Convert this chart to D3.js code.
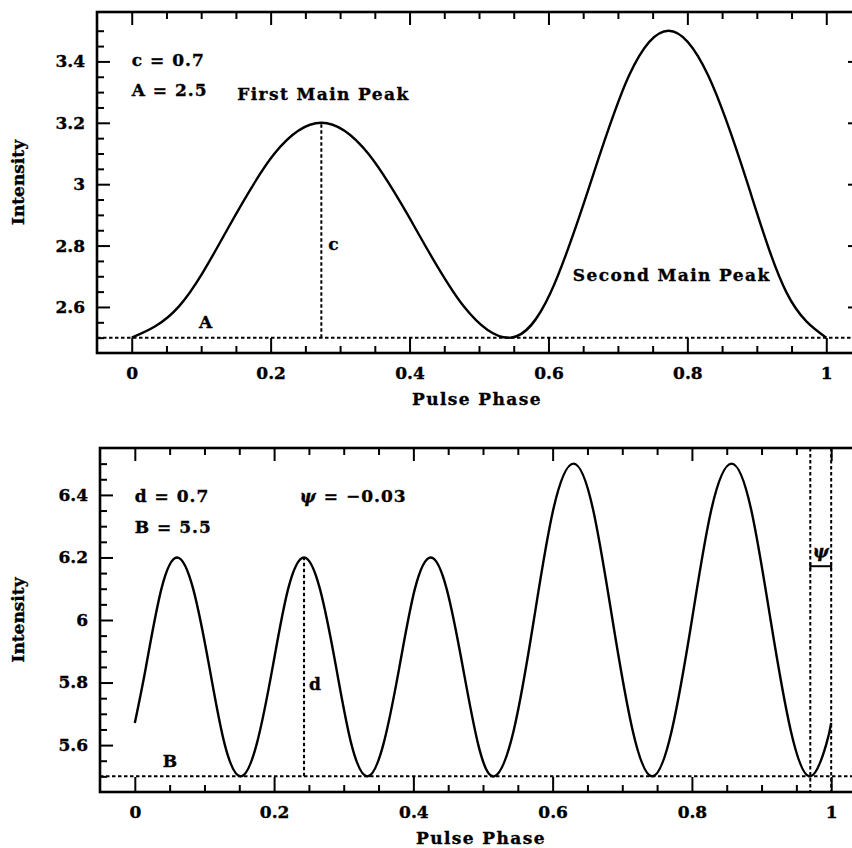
<!DOCTYPE html>
<html>
<head>
<meta charset="utf-8">
<script src="https://cdn.jsdelivr.net/npm/d3@7"></script>
<style>
  body { margin: 0; background: #fff; }
  svg text { font-family: "DejaVu Serif", serif; font-weight: bold; fill: #000; stroke: #000; stroke-width: 0.35px; }
</style>
</head>
<body>
<svg id="fig" width="852" height="848"></svg>
<script>
// ---- values ----
// top panel: two main peaks over baseline A
const topPhase = [0, 0.068, 0.137, 0.205, 0.273, 0.341, 0.410, 0.478, 0.546,
                  0.603, 0.660, 0.716, 0.773, 0.830, 0.887, 0.943, 1.0];
const topIntensity = [2.5, 2.602, 2.85, 3.098, 3.2, 3.098, 2.85, 2.602, 2.5,
                      2.646, 3.0, 3.354, 3.5, 3.354, 3.0, 2.646, 2.5];

// bottom panel: five narrow peaks over baseline B, shifted by psi
const botPhase = [0, 0.016, 0.038, 0.061, 0.084, 0.107, 0.129, 0.152,
                  0.175, 0.198, 0.220, 0.243, 0.266, 0.289, 0.311, 0.334,
                  0.357, 0.380, 0.402, 0.425, 0.448, 0.471, 0.493, 0.516,
                  0.544, 0.573, 0.601, 0.630, 0.658, 0.686, 0.715, 0.743,
                  0.771, 0.800, 0.828, 0.857, 0.885, 0.913, 0.942, 0.970,
                  0.993, 1.0];
const botIntensity = [5.671, 5.85, 6.098, 6.2, 6.098, 5.85, 5.603, 5.5,
                      5.603, 5.85, 6.098, 6.2, 6.098, 5.85, 5.603, 5.5,
                      5.603, 5.85, 6.098, 6.2, 6.098, 5.85, 5.603, 5.5,
                      5.646, 6.0, 6.354, 6.5, 6.354, 6.0, 5.646, 5.5,
                      5.646, 6.0, 6.354, 6.5, 6.354, 6.0, 5.646, 5.5,
                      5.603, 5.671];

// ticks
const xMajor = [0, 0.2, 0.4, 0.6, 0.8, 1];
const xMinor = [0.05, 0.1, 0.15, 0.25, 0.3, 0.35, 0.45, 0.5, 0.55, 0.65, 0.7, 0.75, 0.85, 0.9, 0.95];
const topYMajor = [2.6, 2.8, 3.0, 3.2, 3.4];
const topYMinor = [2.5, 2.55, 2.65, 2.7, 2.75, 2.85, 2.9, 2.95, 3.05, 3.1, 3.15, 3.25, 3.3, 3.35, 3.45, 3.5];
const botYMajor = [5.6, 5.8, 6.0, 6.2, 6.4];
const botYMinor = [5.5, 5.55, 5.65, 5.7, 5.75, 5.85, 5.9, 5.95, 6.05, 6.1, 6.15, 6.25, 6.3, 6.35, 6.45, 6.5];

// annotation values
const topParams = { c: 0.7, A: 2.5, peakPhase: 0.273 };
const botParams = { d: 0.7, B: 5.5, psi: -0.03, peakPhase: 0.243 };

let svg = d3.select("#fig");
let fmt = (v) => String(+v.toFixed(2));

let drawPanel = (cfg) => {
    let x = d3.scaleLinear().domain([-0.05, 1.05]).range([cfg.left, cfg.right]);
    let y = d3.scaleLinear().domain(cfg.yDomain).range([cfg.bottom, cfg.top]);
    let g = svg.append("g");

    let tickStyle = (sel) => {
        sel.select(".domain").remove();
        sel.selectAll(".tick line").attr("stroke", "#000").attr("stroke-width", 2);
        sel.selectAll(".tick text").attr("font-size", 17).attr("fill", "#000")
            .attr("font-family", "DejaVu Serif").attr("font-weight", "bold");
    };

    // bottom axis with labels, top axis without
    g.append("g").attr("transform", `translate(0,${cfg.bottom})`)
        .call(d3.axisBottom(x).tickValues(xMajor).tickSize(-15).tickPadding(14).tickFormat(fmt))
        .call(tickStyle);
    g.append("g").attr("transform", `translate(0,${cfg.bottom})`)
        .call(d3.axisBottom(x).tickValues(xMinor).tickSize(-7).tickFormat(""))
        .call(tickStyle);
    g.append("g").attr("transform", `translate(0,${cfg.top})`)
        .call(d3.axisTop(x).tickValues(xMajor).tickSize(-13).tickFormat(""))
        .call(tickStyle);
    g.append("g").attr("transform", `translate(0,${cfg.top})`)
        .call(d3.axisTop(x).tickValues(xMinor).tickSize(-7).tickFormat(""))
        .call(tickStyle);

    g.append("g").attr("transform", `translate(${cfg.left},0)`)
        .call(d3.axisLeft(y).tickValues(cfg.yMajor).tickSize(-13).tickPadding(12).tickFormat(fmt))
        .call(tickStyle);
    g.append("g").attr("transform", `translate(${cfg.left},0)`)
        .call(d3.axisLeft(y).tickValues(cfg.yMinor).tickSize(-7).tickFormat(""))
        .call(tickStyle);
    g.append("g").attr("transform", `translate(${cfg.right},0)`)
        .call(d3.axisRight(y).tickValues(cfg.yMajor).tickSize(-13).tickFormat(""))
        .call(tickStyle);
    g.append("g").attr("transform", `translate(${cfg.right},0)`)
        .call(d3.axisRight(y).tickValues(cfg.yMinor).tickSize(-7).tickFormat(""))
        .call(tickStyle);

    // frame
    g.append("rect")
        .attr("x", cfg.left).attr("y", cfg.top)
        .attr("width", cfg.right - cfg.left).attr("height", cfg.bottom - cfg.top)
        .attr("fill", "none").attr("stroke", "#000").attr("stroke-width", 2.6);

    // baseline (dotted)
    g.append("line")
        .attr("x1", cfg.left).attr("x2", cfg.right)
        .attr("y1", y(cfg.base)).attr("y2", y(cfg.base))
        .attr("stroke", "#000").attr("stroke-width", 2).attr("stroke-dasharray", "3.5,2.5");

    // curve
    let line = d3.line().x((d) => x(d[0])).y((d) => y(d[1])).curve(d3.curveNatural);
    g.append("path")
        .datum(cfg.phase.map((p, i) => [p, cfg.intensity[i]]))
        .attr("d", line)
        .attr("fill", "none").attr("stroke", "#000").attr("stroke-width", 2.4);

    // axis titles
    g.append("text")
        .attr("x", (cfg.left + cfg.right) / 2 - 2).attr("y", cfg.bottom + 52)
        .attr("text-anchor", "middle").attr("font-size", 17).attr("letter-spacing", 1.4)
        .text("Pulse Phase");
    g.append("text")
        .attr("transform", `translate(24,${(cfg.top + cfg.bottom) / 2}) rotate(-90)`)
        .attr("text-anchor", "middle").attr("font-size", 17)
        .text("Intensity");

    return {x, y, g};
};

let dotted = (g, x1, y1, x2, y2) => g.append("line")
    .attr("x1", x1).attr("y1", y1).attr("x2", x2).attr("y2", y2)
    .attr("stroke", "#000").attr("stroke-width", 2).attr("stroke-dasharray", "3.5,2.5");

let label = (g, x, y, txt, size, spacing) => g.append("text")
    .attr("x", x).attr("y", y).attr("font-size", size || 17)
    .attr("letter-spacing", spacing || 0).text(txt);

// ---- top panel ----
let topPanel = drawPanel({
    left: 97, right: 861, top: 12, bottom: 353,
    yDomain: [2.45, 3.561], yMajor: topYMajor, yMinor: topYMinor,
    base: topParams.A, phase: topPhase, intensity: topIntensity
});
dotted(topPanel.g, topPanel.x(topParams.peakPhase), topPanel.y(topParams.A),
       topPanel.x(topParams.peakPhase), topPanel.y(d3.max(topIntensity.slice(0, 9))));
label(topPanel.g, topPanel.x(0), topPanel.y(3.385), `c = ${topParams.c}`, 17, 1);
label(topPanel.g, topPanel.x(0), topPanel.y(3.287), `A = ${topParams.A}`, 17, 1);
label(topPanel.g, topPanel.x(0.152), topPanel.y(3.274), "First Main Peak", 17, 1.4);
label(topPanel.g, topPanel.x(0.635), topPanel.y(2.685), "Second Main Peak", 17, 1.4);
label(topPanel.g, topPanel.x(0.283), topPanel.y(2.785), "c", 17);
label(topPanel.g, topPanel.x(0.097), topPanel.y(2.53), "A", 17);

// ---- bottom panel ----
let botPanel = drawPanel({
    left: 100, right: 866, top: 448, bottom: 792,
    yDomain: [5.45, 6.55], yMajor: botYMajor, yMinor: botYMinor,
    base: botParams.B, phase: botPhase, intensity: botIntensity
});
dotted(botPanel.g, botPanel.x(botParams.peakPhase), botPanel.y(botParams.B),
       botPanel.x(botParams.peakPhase), botPanel.y(6.2));
label(botPanel.g, botPanel.x(0), botPanel.y(6.377), `d = ${botParams.d}`, 17, 1);
label(botPanel.g, botPanel.x(0), botPanel.y(6.277), `B = ${botParams.B}`, 17, 1);
let psiText = label(botPanel.g, botPanel.x(0.237), botPanel.y(6.377), "", 17, 1);
psiText.append("tspan").attr("font-style", "italic").text("\u03c8");
psiText.append("tspan").text(" = \u22120.03");
label(botPanel.g, botPanel.x(0.25), botPanel.y(5.776), "d", 17);
label(botPanel.g, botPanel.x(0.04), botPanel.y(5.53), "B", 17);

// psi marker: two dotted verticals and a bracket
let psiL = 1 + botParams.psi, psiR = 1;
let [yTop, yBot] = [botPanel.y.range()[1], botPanel.y.range()[0]];
dotted(botPanel.g, botPanel.x(psiL), yTop, botPanel.x(psiL), yBot);
dotted(botPanel.g, botPanel.x(psiR), yTop, botPanel.x(psiR), yBot);
botPanel.g.append("line")
    .attr("x1", botPanel.x(psiL)).attr("x2", botPanel.x(psiR))
    .attr("y1", botPanel.y(6.172)).attr("y2", botPanel.y(6.172))
    .attr("stroke", "#000").attr("stroke-width", 2);
[psiL, psiR].forEach((p) => botPanel.g.append("line")
    .attr("x1", botPanel.x(p)).attr("x2", botPanel.x(p))
    .attr("y1", botPanel.y(6.172) - 4).attr("y2", botPanel.y(6.172) + 4)
    .attr("stroke", "#000").attr("stroke-width", 2));
botPanel.g.append("text")
    .attr("x", botPanel.x((psiL + psiR) / 2)).attr("y", botPanel.y(6.2))
    .attr("text-anchor", "middle").attr("font-size", 17).attr("font-style", "italic")
    .text("\u03c8");
</script>
</body>
</html>
